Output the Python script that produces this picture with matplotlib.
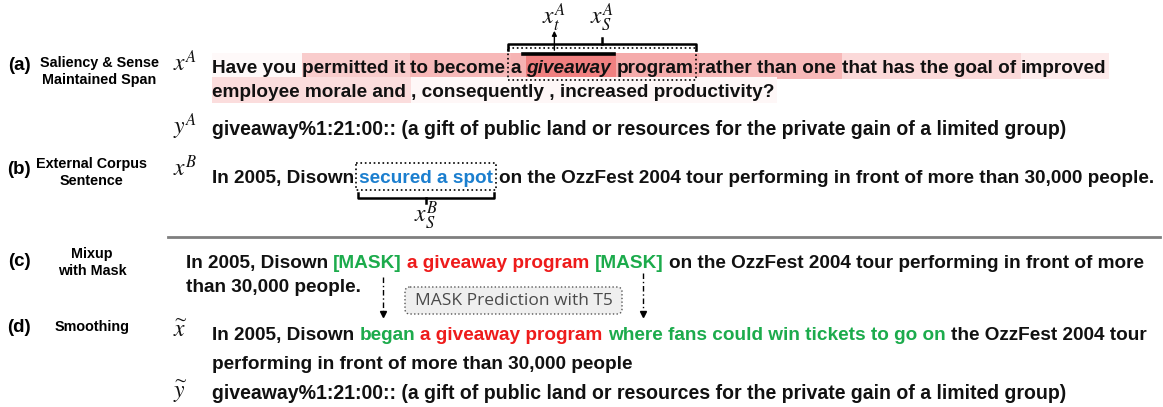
import matplotlib.pyplot as plt
from matplotlib.patches import Rectangle, FancyBboxPatch

plt.rcParams['font.family'] = ['Liberation Sans', 'DejaVu Sans']
plt.rcParams['mathtext.fontset'] = 'stix'

# ---- content ----
row_tags = ["(a)", "(b)", "(c)", "(d)"]
row_names = [["Saliency & Sense", "Maintained Span"], ["External Corpus", "Sentence"],
             ["Mixup", "with Mask"], ["Smoothing"]]

# (a) source sentence, split into saliency spans
a_line1 = ["Have you", "permitted it", "to become", "a", "giveaway", "program",
           "rather than one", "that has the goal of", "improved"]
a_sal1 = [0.05, 0.40, 0.56, 0.6, 1.0, 0.66, 0.56, 0.3, 0.16]
a_line2 = ["employee morale and", ", consequently , increased productivity?"]
a_sal2 = [0.27, 0.06]
sense = "giveaway%1:21:00:: (a gift of public land or resources for the private gain of a limited group)"

# (b) external corpus sentence
b_words = ["In 2005, Disown", "secured a spot",
           "on the OzzFest 2004 tour performing in front of more than 30,000 people."]
b_kind = ["plain", "span", "plain"]

# (c) mixup with mask
c_line1 = ["In 2005, Disown", "[MASK]", "a giveaway program", "[MASK]",
           "on the OzzFest 2004 tour performing in front of more"]
c_kind1 = ["plain", "mask", "target", "mask", "plain"]
c_line2 = "than 30,000 people."

# (d) smoothed sentence
d_line1 = ["In 2005, Disown", "began", "a giveaway program",
           "where fans could win tickets to go on", "the OzzFest 2004 tour"]
d_kind1 = ["plain", "mask", "target", "mask", "plain"]
d_line2 = "performing in front of more than 30,000 people"

kind_color = {"plain": "#111111", "mask": "#1cab4c", "target": "#ee1b1b", "span": "#1b7fcf"}

FS = 13.7
FS_SENSE = 14.05
base_red = (240 / 255, 128 / 255, 128 / 255)


def sal_color(w):
    return tuple(1 - w * (1 - c) for c in base_red)


fig = plt.figure(figsize=(11.63, 4.07), dpi=100)
ax = fig.add_axes([0, 0, 1, 1])
ax.set_xlim(0, 1163)
ax.set_ylim(407, 0)
ax.axis('off')
r = fig.canvas.get_renderer()


def width(s, style='normal', size=FS):
    kw = dict(fontsize=size, fontweight='bold', fontstyle=style)
    t1 = ax.text(0, 0, '|' + s + '|', **kw)
    t2 = ax.text(0, 0, '||', **kw)
    w = t1.get_window_extent(r).width - t2.get_window_extent(r).width
    t1.remove()
    t2.remove()
    return w


SP = width(' ')


def draw_run(x, base, words, colors, bgs=None, styles=None):
    spans = []
    for i, w in enumerate(words):
        st = styles[i] if styles else 'normal'
        ax.text(x, base, w, color=colors[i], fontsize=FS, fontweight='bold',
                fontstyle=st, va='baseline', ha='left', zorder=3)
        wd = width(w, st)
        adv = wd + SP
        if bgs is not None:
            ax.add_patch(Rectangle((x, base - 20), adv if i < len(words) - 1 else wd + 2, 26,
                                   fc=bgs[i], ec='none', zorder=1))
        spans.append((x, x + wd))
        x += adv
    return spans


def math(x, y, s, size=17):
    ax.text(x, y, s, fontsize=size, ha='center', va='center', color='#111111')


def brace(x0, x1, y, d):
    # d > 0: arms point down, middle tick up
    xm = (x0 + x1) / 2
    ax.plot([x0, x0, x1, x1], [y + d, y, y, y + d], color='k', lw=1.8, solid_joinstyle='round')
    ax.plot([xm, xm], [y, y - d], color='k', lw=1.8)
    return xm


# ---- row labels ----
tag_y = [66, 170, 262, 327]
name_x = [99, 91, 92, 92]
name_y = [[63, 80], [164, 181], [254, 271], [327]]
for i in range(4):
    ax.text(19, tag_y[i], row_tags[i], fontsize=13.5, fontweight='bold', ha='center', va='center')
    for s, yy in zip(row_names[i], name_y[i]):
        ax.text(name_x[i], yy, s, fontsize=10.4, fontweight='bold', ha='center', va='center')

# ---- (a) ----
X0 = 212
math(185, 63, r'$x^A$')
styles1 = ['italic' if w == 'giveaway' else 'normal' for w in a_line1]
sp1 = draw_run(X0, 73, a_line1, ['#111111'] * len(a_line1),
               [sal_color(v) for v in a_sal1], styles1)
draw_run(X0, 97, a_line2, ['#111111'] * len(a_line2), [sal_color(v) for v in a_sal2])

ia, ig, ip = a_line1.index('a'), a_line1.index('giveaway'), a_line1.index('program')
bx0, bx1 = sp1[ia][0] - 3, sp1[ip][1] + 3
ax.add_patch(Rectangle((bx0, 48), bx1 - bx0, 32, fill=False, ec='k', lw=1.2, ls=':', zorder=4))
ax.plot([sp1[ig][0] - 3, sp1[ig][1] + 3], [53.5, 53.5], color='k', lw=2.6, zorder=4)
xm = brace(bx0, bx1, 44, 6)
xt = sp1[ig][0] + 28
ax.annotate('', xy=(xt, 28), xytext=(xt, 53),
            arrowprops=dict(arrowstyle='-|>', lw=1, color='k', mutation_scale=7))
math(xt, 17, r'$x_t^A$')
math(xm, 17, r'$x_S^A$')

math(185, 126, r'$y^A$')
ax.text(X0, 135, sense, fontsize=FS_SENSE, fontweight='bold', va='baseline', color='#111111')

# ---- (b) ----
math(185, 168, r'$x^B$')
spb = draw_run(X0, 183, b_words, [kind_color[k] for k in b_kind])
ib = b_kind.index('span')
cx0, cx1 = spb[ib][0] - 3, spb[ib][1] + 3
ax.add_patch(Rectangle((cx0, 163), cx1 - cx0, 27, fill=False, ec='k', lw=1.2, ls=':', zorder=4))
xmb = brace(cx0 + 2, cx1 - 2, 198, -5)
math(xmb, 216, r'$x_S^B$')

ax.plot([168, 1160], [237, 237], color='#7f7f7f', lw=2)

# ---- (c) ----
C0 = 186
draw_run(C0, 268, c_line1, [kind_color[k] for k in c_kind1])
ax.text(C0, 292, c_line2, fontsize=FS, fontweight='bold', va='baseline', color='#111111')
for xa, ya in [(383, 277), (643, 273)]:
    ax.plot([xa, xa], [ya, 312], color='k', lw=1, ls=(0, (4, 2, 1, 2)))
    ax.plot(xa, 314, marker='v', ms=4.5, color='k')
ax.add_patch(FancyBboxPatch((405, 287), 217, 27, boxstyle='round,pad=0,rounding_size=5',
                            fc='#efefef', ec='#555555', lw=1, ls=':'))
ax.text(513.5, 301, 'MASK Prediction with T5', fontsize=12.5, family='Open Sans',
        ha='center', va='center', color='#4a4a4a')

# ---- (d) ----
math(180, 331, r'$\widetilde{x}$')
draw_run(X0, 340, d_line1, [kind_color[k] for k in d_kind1])
ax.text(X0, 369, d_line2, fontsize=FS, fontweight='bold', va='baseline', color='#111111')
math(180, 392, r'$\widetilde{y}$')
ax.text(X0, 399, sense, fontsize=FS_SENSE, fontweight='bold', va='baseline', color='#111111')

plt.savefig('out.png', dpi=100)
